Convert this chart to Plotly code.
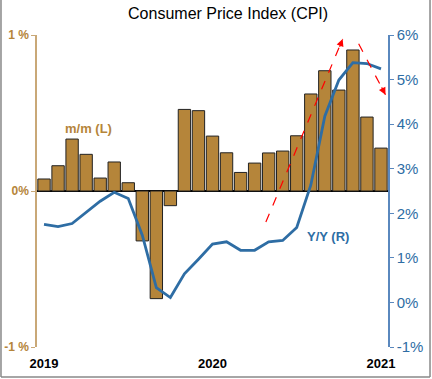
import plotly.graph_objects as go

months = list(range(25))  # Jan 2019 .. Jan 2021
mm = [0.077, 0.162, 0.333, 0.235, 0.083, 0.186, 0.053, -0.32, -0.69, -0.094,
      0.523, 0.515, 0.352, 0.245, 0.119, 0.179, 0.244, 0.256, 0.354, 0.622,
      0.771, 0.647, 0.904, 0.474, 0.275]
yy = [1.75, 1.70, 1.77, 2.03, 2.27, 2.47, 2.33, 1.51, 0.33, 0.11,
      0.64, 0.97, 1.31, 1.36, 1.17, 1.17, 1.36, 1.39, 1.68, 2.63,
      4.18, 4.99, 5.38, 5.36, 5.24]
tick_pos = [0, 12, 24]
tick_text = ["2019", "2020", "2021"]
left_ticks = [-1, 0, 1]
left_text = ["-1 %", "0%", "1 %"]
right_ticks = [-1, 0, 1, 2, 3, 4, 5, 6]
right_text = ["-1%", "0%", "1%", "2%", "3%", "4%", "5%", "6%"]

BROWN = "#B5853A"
BLUE = "#2E6DA4"
FONT = "Liberation Sans, Arial, sans-serif"

fig = go.Figure()
fig.add_trace(go.Bar(x=months, y=mm, marker=dict(color=BROWN, line=dict(color="#222222", width=1)),
                     yaxis="y", showlegend=False))
fig.add_trace(go.Scatter(x=months, y=yy, mode="lines", line=dict(color=BLUE, width=2.8),
                         yaxis="y2", showlegend=False))

# red dashed arrows (in data coordinates of x / left axis)
arrows = [((15.8, -0.199), (21.27, 0.974), (-3.6, 9.3)),
          ((22.41, 0.944), (24.32, 0.617), (-4.6, -8.9))]
for (x0, y0), (x1, y1), (ax, ay) in arrows:
    fig.add_shape(type="line", x0=x0, y0=y0, x1=x1, y1=y1, xref="x", yref="y",
                  line=dict(color="red", width=1.2, dash="dash"))
    fig.add_annotation(x=x1, y=y1, xref="x", yref="y", ax=ax, ay=ay, text="",
                       showarrow=True, arrowhead=2, arrowsize=1.2, arrowwidth=1.2,
                       arrowcolor="red")

fig.add_annotation(x=3.18, y=0.40, xref="x", yref="y", text="<b>m/m (L)</b>", showarrow=False,
                   font=dict(family=FONT, size=13, color=BROWN))
fig.add_annotation(x=20.25, y=1.49, xref="x", yref="y2", text="<b>Y/Y (R)</b>", showarrow=False,
                   font=dict(family=FONT, size=13, color=BLUE))

# outer frame: left, bottom, right edges
frame = dict(color="#888888", width=1.5)
fig.add_shape(type="line", xref="paper", yref="paper", x0=-0.1026, x1=-0.1026, y0=-0.0962, y1=1.12, line=frame)
fig.add_shape(type="line", xref="paper", yref="paper", x0=-0.1026, x1=1.1197, y0=-0.0962, y1=-0.0962, line=frame)
fig.add_shape(type="line", xref="paper", yref="paper", x0=1.1197, x1=1.1197, y0=-0.0962, y1=1.12, line=frame)

fig.update_layout(
    width=432, height=379,
    margin=dict(l=37, r=44, t=35, b=32, autoexpand=False),
    paper_bgcolor="white", plot_bgcolor="white",
    bargap=0.12,
    title=dict(text="Consumer Price Index (CPI)", x=0.528, xanchor="center", y=0.965, yanchor="middle",
               automargin=False, font=dict(family=FONT, size=16, color="black")),
    font=dict(family=FONT),
    xaxis=dict(range=[-0.5, 24.5], tickvals=tick_pos, ticktext=tick_text, showgrid=False,
               zeroline=False, showline=False, ticks="outside", ticklen=4, tickcolor="white",
               automargin=False,
               tickfont=dict(family=FONT, size=13, color="black", weight="bold")),
    yaxis=dict(range=[-1, 1], tickvals=left_ticks, ticktext=left_text, showgrid=False,
               zeroline=True, zerolinecolor="black", zerolinewidth=1.5,
               showline=True, linecolor="#C9A877", linewidth=1.5, automargin=False,
               ticks="outside", ticklen=4, tickcolor="#C9A877",
               tickfont=dict(family=FONT, size=12, color=BROWN, weight="bold")),
    yaxis2=dict(range=[-1, 6], tickvals=right_ticks, ticktext=right_text, overlaying="y", side="right",
                showgrid=False, zeroline=False, showline=True, linecolor="#5A88BE", linewidth=1.5,
                automargin=False,
                ticks="outside", ticklen=4, tickcolor="#5A88BE",
                tickfont=dict(family=FONT, size=15, color=BLUE)),
)

fig.write_html("out.html", config={"displayModeBar": False},
               post_script="document.body.style.margin='0';")
